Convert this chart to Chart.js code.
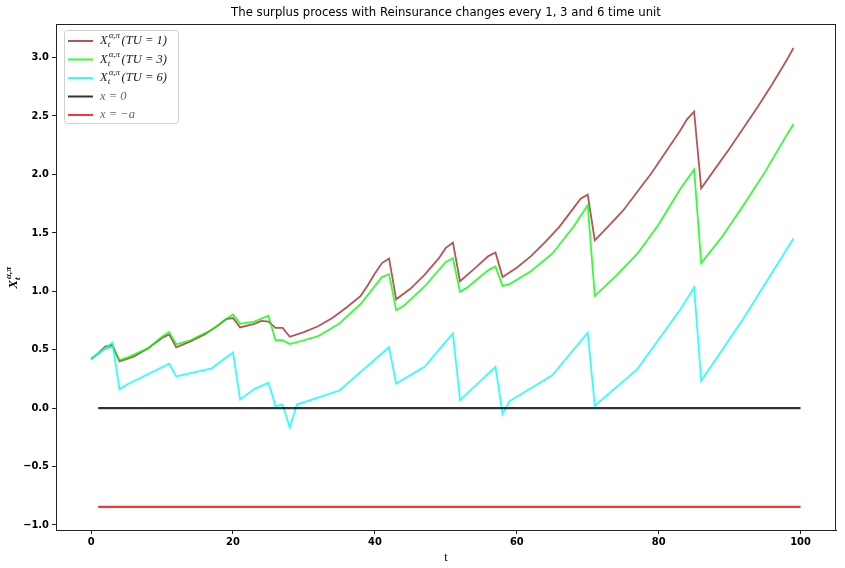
<!DOCTYPE html>
<html>
<head>
<meta charset="utf-8">
<script src="https://cdn.jsdelivr.net/npm/chart.js@4.4.0/dist/chart.umd.min.js"></script>
<style>
  html, body { margin: 0; padding: 0; background: #fff; }
</style>
</head>
<body>
<canvas id="myChart" width="845" height="568"></canvas>
<script>
// time points and values (vertices of each path)
const tTU1 = [0,1,2,3,4,6,8,10,11,12,14,16,18,19,20,21,23,24,25,26,27,28,30,32,34,36,38,39,40,41,42,43,45,47,49,50,51,52,54,56,57,58,60,62,64,66,68,69,70,71,73,75,77,79,81,83,84,85,86,88,90,92,94,96,98,99];
const xTU1 = [0.42,0.47,0.525,0.54,0.40,0.44,0.51,0.60,0.63,0.52,0.57,0.63,0.71,0.76,0.77,0.69,0.72,0.745,0.74,0.685,0.685,0.61,0.65,0.70,0.77,0.86,0.96,1.05,1.15,1.24,1.28,0.93,1.02,1.14,1.28,1.37,1.415,1.085,1.19,1.30,1.33,1.12,1.20,1.30,1.42,1.55,1.71,1.79,1.825,1.435,1.56,1.69,1.85,2.01,2.19,2.37,2.47,2.535,1.88,2.05,2.22,2.40,2.58,2.77,2.97,3.08];

const tTU3 = [0,2,3,4,5,8,10,11,12,14,17,19,20,21,23,25,26,27,28,30,32,35,38,41,42,43,44,47,50,51,52,53,56,57,58,59,62,65,68,70,71,74,77,80,83,85,86,89,92,95,98,99];
const xTU3 = [0.42,0.51,0.525,0.41,0.43,0.51,0.61,0.65,0.545,0.58,0.67,0.76,0.80,0.72,0.74,0.79,0.58,0.58,0.547,0.58,0.615,0.724,0.89,1.12,1.145,0.838,0.87,1.04,1.25,1.28,0.994,1.03,1.18,1.21,1.045,1.06,1.17,1.32,1.55,1.735,0.96,1.13,1.32,1.57,1.87,2.04,1.24,1.47,1.74,2.02,2.33,2.427];

const tTU6 = [0,3,4,5,11,12,17,20,21,23,25,26,27,28,29,35,42,43,47,51,52,57,58,59,65,70,71,77,83,85,86,92,99];
const xTU6 = [0.42,0.56,0.16,0.20,0.38,0.27,0.34,0.476,0.074,0.162,0.216,0.017,0.03,-0.168,0.03,0.15,0.52,0.21,0.353,0.638,0.068,0.353,-0.05,0.06,0.28,0.644,0.02,0.333,0.838,1.03,0.233,0.77,1.45];

// horizontal reference lines
const tLevel = [1, 100];
const zeroLevel = 0;
const minusA = -0.846;

// tick labels
const xTicks = [0, 20, 40, 60, 80, 100];
const yTicks = [-1.0, -0.5, 0.0, 0.5, 1.0, 1.5, 2.0, 2.5, 3.0];

const toPoints = (ts, vs) => ts.map((t, i) => ({ x: t, y: vs[i] }));

const serif = '"Liberation Serif", "DejaVu Serif", serif';
const narrow = '"Liberation Sans Narrow", "DejaVu Sans Condensed", sans-serif';

// draws labels like X_t^{a,b}(...) with small sub/superscripts
function drawRich(ctx, label, x, y, size, weight, color) {
  ctx.fillStyle = color;
  ctx.textBaseline = 'middle';
  ctx.textAlign = 'left';
  const m = label.match(/^X_t\^\{(.*)\}(.*)$/);
  if (!m) {
    ctx.font = `italic ${weight} ${size}px ${serif}`;
    ctx.fillText(label, x, y);
    return ctx.measureText(label).width;
  }
  ctx.font = `italic ${weight} ${size}px ${serif}`;
  ctx.fillText('X', x, y);
  const w0 = ctx.measureText('X').width;
  const small = Math.round(size * 0.7);
  ctx.font = `italic ${weight} ${small}px ${serif}`;
  ctx.fillText('t', x + w0, y + size * 0.32);
  ctx.fillText(m[1], x + w0 + 1, y - size * 0.4);
  const adv = Math.max(ctx.measureText('t').width, ctx.measureText(m[1]).width + 1);
  ctx.font = `italic ${weight} ${size}px ${serif}`;
  ctx.fillText(m[2], x + w0 + adv + 1.5, y);
  return w0 + adv + 1.5 + ctx.measureText(m[2]).width;
}

const extras = {
  id: 'extras',
  afterDraw(chart) {
    const ctx = chart.ctx;
    const a = chart.chartArea;
    ctx.save();
    // frame
    ctx.strokeStyle = '#222';
    ctx.lineWidth = 1;
    ctx.strokeRect(a.left + 0.5, a.top + 0.5, a.right - a.left - 1, a.bottom - a.top);

    // y axis title
    ctx.save();
    ctx.translate(14, (a.top + a.bottom) / 2);
    ctx.rotate(-Math.PI / 2);
    const label = 'X_t^{α,π}';
    const w = drawRich(ctx, label, 0, -1000, 13, 'bold', 'rgba(0,0,0,0)');
    drawRich(ctx, label, -w / 2, 0, 13, 'bold', '#000');
    ctx.restore();

    // legend box
    const bx = a.left + 8, by = a.top + 6, bw = 114, bh = 93;
    ctx.beginPath();
    ctx.roundRect(bx + 0.5, by + 0.5, bw, bh, 3);
    ctx.fillStyle = 'rgba(255,255,255,0.85)';
    ctx.fill();
    ctx.strokeStyle = '#d0d0d0';
    ctx.stroke();
    chart.data.datasets.forEach((ds, i) => {
      const yy = by + 11 + i * 18.5;
      ctx.beginPath();
      ctx.strokeStyle = ds.borderColor;
      ctx.lineWidth = 2;
      ctx.moveTo(bx + 4, yy);
      ctx.lineTo(bx + 29, yy);
      ctx.stroke();
      const col = i < 3 ? '#222' : '#666';
      drawRich(ctx, ds.label, bx + 36, yy, 12.5, 'normal', col);
    });
    ctx.restore();
  }
};

const ctx = document.getElementById('myChart').getContext('2d');
const myChart = new Chart(ctx, {
  type: 'line',
  data: {
    datasets: [
      { label: 'X_t^{α,π}(TU = 1)', data: toPoints(tTU1, xTU1), borderColor: 'rgba(165,42,42,0.8)', borderWidth: 1.8, order: 5 },
      { label: 'X_t^{α,π}(TU = 3)', data: toPoints(tTU3, xTU3), borderColor: 'rgba(0,255,0,0.8)', borderWidth: 1.8, order: 4 },
      { label: 'X_t^{α,π}(TU = 6)', data: toPoints(tTU6, xTU6), borderColor: 'rgba(0,255,255,0.8)', borderWidth: 1.8, order: 3 },
      { label: 'x = 0', data: tLevel.map(t => ({ x: t, y: zeroLevel })), borderColor: 'rgba(0,0,0,0.8)', borderWidth: 2.2, order: 2 },
      { label: 'x = −a', data: tLevel.map(t => ({ x: t, y: minusA })), borderColor: 'rgba(255,0,0,0.8)', borderWidth: 2.2, order: 1 }
    ]
  },
  options: {
    responsive: false,
    animation: false,
    devicePixelRatio: 1,
    elements: { point: { radius: 0 }, line: { tension: 0, fill: false } },
    layout: { padding: { left: 0, right: 9, top: 0, bottom: 0 } },
    plugins: {
      legend: { display: false },
      tooltip: { enabled: false },
      title: {
        display: true,
        fullSize: false,
        text: 'The surplus process with Reinsurance changes every 1, 3 and 6 time unit',
        color: '#000',
        font: { family: narrow, size: 13, weight: 'normal', lineHeight: 1.2 },
        padding: { top: 5, bottom: 3.4 }
      }
    },
    scales: {
      x: {
        type: 'linear',
        min: -4.95,
        max: 105,
        afterFit: s => { s.height = 38; },
        afterBuildTicks: s => { s.ticks = xTicks.map(v => ({ value: v })); },
        grid: { display: true, drawOnChartArea: false, drawTicks: true, tickLength: 4, color: '#222' },
        border: { display: true, color: '#222' },
        ticks: { color: '#000', padding: 2, maxRotation: 0, font: { family: narrow, size: 11, weight: 'bold' }, callback: v => String(v) },
        title: { display: true, text: 't', color: '#000', font: { family: serif, size: 12 }, padding: { top: 0, bottom: 3 } }
      },
      y: {
        type: 'linear',
        min: -1.043,
        max: 3.285,
        afterFit: s => { s.width = 56; },
        afterBuildTicks: s => { s.ticks = yTicks.map(v => ({ value: v })); },
        grid: { display: true, drawOnChartArea: false, drawTicks: true, tickLength: 4, color: '#222' },
        border: { display: true, color: '#222' },
        ticks: { color: '#000', padding: 3, font: { family: narrow, size: 11, weight: 'bold' }, callback: v => (v < 0 ? '−' : '') + Math.abs(v).toFixed(1) }
      }
    }
  },
  plugins: [extras]
});
</script>
</body>
</html>
